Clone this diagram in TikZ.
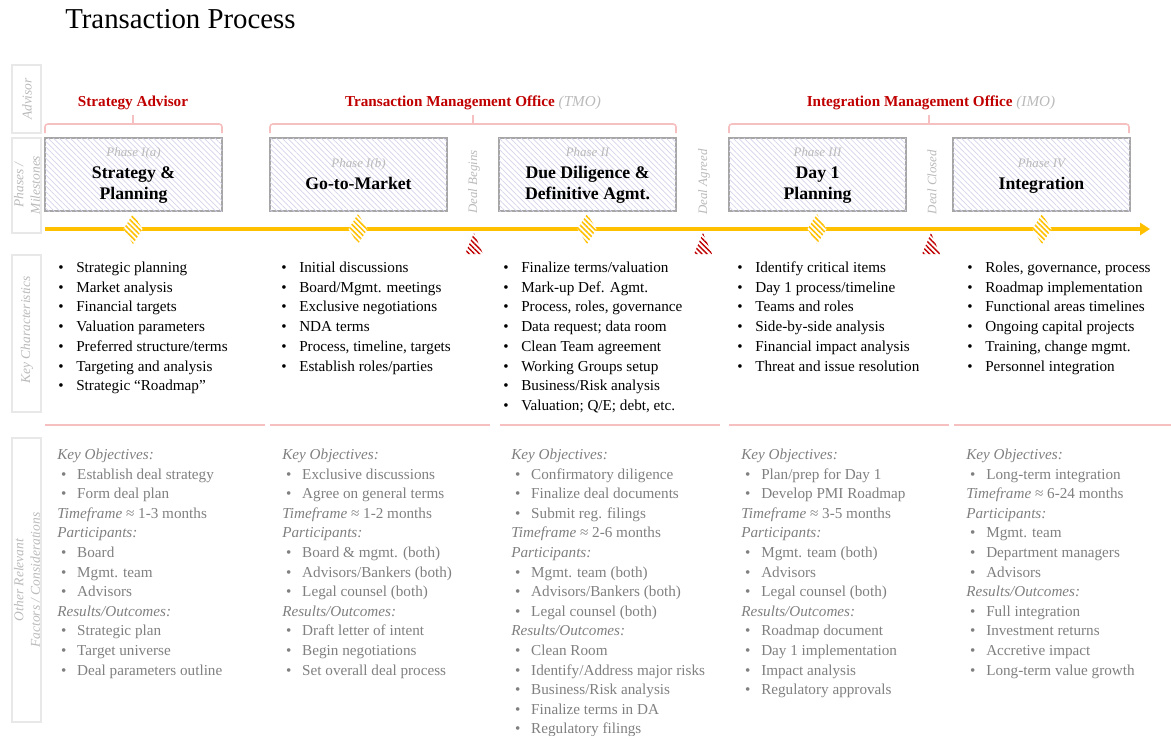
\documentclass[tikz,border=0pt]{standalone}
\usepackage{fontspec}
\setmainfont{Liberation Serif}
\usetikzlibrary{arrows.meta,patterns.meta}
\definecolor{tpred}{RGB}{192,0,0}
\definecolor{tppink}{RGB}{246,192,192}
\definecolor{tpgray}{RGB}{128,128,128}
\definecolor{tplight}{RGB}{186,186,186}
\definecolor{tpframe}{RGB}{232,232,232}
\definecolor{tpbox}{RGB}{166,166,166}
\definecolor{tphatch}{RGB}{212,212,236}
\definecolor{tpyellow}{RGB}{255,192,0}

\newcommand{\kcitem}[1]{\makebox[12.8pt][l]{\textbullet}#1}
\newcommand{\oritem}[1]{\hspace*{2.8pt}\makebox[11.4pt][l]{\textbullet}#1}
\newcommand{\orhead}[1]{\textit{#1}}
\newcommand{\ortime}[1]{\textit{Timeframe} ≈ #1}

\begin{document}
\begin{tikzpicture}[x=0.025cm,y=-0.025cm,
  rowbox/.style={draw=tpframe,line width=1pt},
  rowlab/.style={rotate=90,align=center,text=tplight,font=\fontsize{9.6}{11.6}\selectfont\itshape},
  advhead/.style={anchor=base,text=tpred,font=\fontsize{10.8}{13}\selectfont\bfseries},
  brace/.style={draw=tppink,line width=1.1pt,rounded corners=2pt},
  phasebox/.style={draw=tpbox,line width=1.1pt,fill=white,
    postaction={pattern={Lines[angle=-45,distance=2.8pt,line width=0.5pt]},pattern color=tphatch}},
  phaselab/.style={anchor=base,text=tplight,font=\fontsize{9.2}{11}\selectfont\itshape},
  phasetitle/.style={anchor=base,text=black,font=\fontsize{12.6}{15}\selectfont\bfseries},
  milestone/.style={rotate=90,text=tplight,font=\fontsize{9.2}{11}\selectfont\itshape},
  timeline/.style={draw=tpyellow,line width=2.8pt,-{Triangle[length=7pt,width=8.5pt]}},
  dmark/.style={fill=white,postaction={pattern={Lines[angle=-45,distance=2.6pt,line width=1.1pt]},pattern color=tpyellow}},
  tmark/.style={fill=white,postaction={pattern={Lines[angle=-45,distance=2.6pt,line width=1pt]},pattern color=tpred}},
  sepline/.style={draw=tppink,line width=1.4pt},
  kctext/.style={anchor=base west,inner sep=0pt,text=black,font=\fontsize{10.8}{13}\selectfont},
  ortext/.style={anchor=base west,inner sep=0pt,text=tpgray,font=\fontsize{10.8}{13}\selectfont}]
\useasboundingbox (0,0) rectangle (1171,736);

% Title
\node[anchor=base west,inner sep=0pt,font=\fontsize{20.5}{24}\selectfont] (title) at (65,29) {Transaction Process};

% Row labels
\draw[rowbox] (12,65) rectangle (41,133);
\node[rowlab] (labAdvisor) at (27,99) {Advisor};
\draw[rowbox] (12,138) rectangle (41,233);
\node[rowlab] (labPhases) at (27,185) {Phases /\\Milestones};
\draw[rowbox] (12,255) rectangle (41,412);
\node[rowlab] (labKey) at (27,330) {Key Characteristics};
\draw[rowbox] (12,438) rectangle (41,722);
\node[rowlab] (labOther) at (27,580) {Other Relevant\\Factors / Considerations};

% Advisors and braces
\node[advhead] (advSA) at (133,106) {Strategy Advisor};
\node[advhead] (advTMO) at (473,106) {Transaction Management Office \textcolor{tplight}{\mdseries\itshape (TMO)}};
\node[advhead] (advIMO) at (931,106) {Integration Management Office \textcolor{tplight}{\mdseries\itshape (IMO)}};
\foreach \ba/\bm/\bb in {45/133/222, 270/473/676, 729/929/1129} {
  \draw[brace] (\ba,133) -- (\ba,124) -- (\bb,124) -- (\bb,133);
  \draw[brace] (\bm,124) -- (\bm,115);
}

% Phase boxes
\foreach \pa/\pb in {45/222, 270/447, 499/676, 729/906, 953/1130}
  \filldraw[phasebox] (\pa,138) rectangle (\pb,211);
\node[phaselab] (phA) at (133.5,156.5) {Phase I(a)};
\node[phasetitle] (phAa) at (133.5,178) {Strategy \&};
\node[phasetitle] (phAb) at (133.5,199) {Planning};
\node[phaselab] (phB) at (358.5,167.5) {Phase I(b)};
\node[phasetitle] (phBa) at (358.5,189) {Go-to-Market};
\node[phaselab] (phC) at (587.5,156.5) {Phase II};
\node[phasetitle] (phCa) at (587.5,178) {Due Diligence \&};
\node[phasetitle] (phCb) at (587.5,199) {Definitive Agmt.};
\node[phaselab] (phD) at (817.5,156.5) {Phase III};
\node[phasetitle] (phDa) at (817.5,178) {Day 1};
\node[phasetitle] (phDb) at (817.5,199) {Planning};
\node[phaselab] (phE) at (1041.5,167.5) {Phase IV};
\node[phasetitle] (phEa) at (1041.5,189) {Integration};

% Milestones
\node[milestone] (msBegin) at (474,182) {Deal Begins};
\node[milestone] (msAgree) at (704,182) {Deal Agreed};
\node[milestone] (msClose) at (932,182) {Deal Closed};

% Timeline
\coordinate (tlStart) at (45,229);
\coordinate (tlEnd) at (1150,229);
\draw[timeline] (tlStart) -- (tlEnd);
\foreach \mx in {133,358,587,817,1042}
  \fill[dmark] (\mx,214) -- (\mx+9.5,229) -- (\mx,244) -- (\mx-9.5,229) -- cycle;
\foreach \mx in {474,703,931}
  \fill[tmark] (\mx,233) -- (\mx+9,254) -- (\mx-9,254) -- cycle;

% Key characteristics
\foreach \entry [count=\i from 0] in {Strategic planning, Market analysis, Financial targets,
    Valuation parameters, Preferred structure/terms, Targeting and analysis, Strategic “Roadmap”}
  \node[kctext] (kcA\i) at (58,272.5+19.7*\i) {\kcitem{\entry}};
\foreach \entry [count=\i from 0] in {Initial discussions, Board/Mgmt. meetings, Exclusive negotiations,
    NDA terms, {Process, timeline, targets}, Establish roles/parties}
  \node[kctext] (kcB\i) at (281,272.5+19.7*\i) {\kcitem{\entry}};
\foreach \entry [count=\i from 0] in {Finalize terms/valuation, Mark-up Def. Agmt., {Process, roles, governance},
    Data request; data room, Clean Team agreement, Working Groups setup, Business/Risk analysis,
    {Valuation; Q/E; debt, etc.}}
  \node[kctext] (kcC\i) at (503,272.5+19.7*\i) {\kcitem{\entry}};
\foreach \entry [count=\i from 0] in {Identify critical items, Day 1 process/timeline, Teams and roles,
    Side-by-side analysis, Financial impact analysis, Threat and issue resolution}
  \node[kctext] (kcD\i) at (737,272.5+19.7*\i) {\kcitem{\entry}};
\foreach \entry [count=\i from 0] in {{Roles, governance, process}, Roadmap implementation,
    Functional areas timelines, Ongoing capital projects, {Training, change mgmt.}, Personnel integration}
  \node[kctext] (kcE\i) at (967,272.5+19.7*\i) {\kcitem{\entry}};

% Separators
\foreach \sa/\sb in {45/265, 270/490, 500/720, 729/949, 954/1171}
  \draw[sepline] (\sa,425) -- (\sb,425);

% Other relevant factors
\foreach \entry [count=\i from 0] in {{\orhead{Key Objectives:}}, {\oritem{Establish deal strategy}},
    {\oritem{Form deal plan}}, {\ortime{1-3 months}}, {\orhead{Participants:}}, {\oritem{Board}},
    {\oritem{Mgmt. team}}, {\oritem{Advisors}}, {\orhead{Results/Outcomes:}}, {\oritem{Strategic plan}},
    {\oritem{Target universe}}, {\oritem{Deal parameters outline}}}
  \node[ortext] (orA\i) at (57,459.5+19.6*\i) {\entry};
\foreach \entry [count=\i from 0] in {{\orhead{Key Objectives:}}, {\oritem{Exclusive discussions}},
    {\oritem{Agree on general terms}}, {\ortime{1-2 months}}, {\orhead{Participants:}},
    {\oritem{Board \& mgmt. (both)}}, {\oritem{Advisors/Bankers (both)}}, {\oritem{Legal counsel (both)}},
    {\orhead{Results/Outcomes:}}, {\oritem{Draft letter of intent}}, {\oritem{Begin negotiations}},
    {\oritem{Set overall deal process}}}
  \node[ortext] (orB\i) at (282,459.5+19.6*\i) {\entry};
\foreach \entry [count=\i from 0] in {{\orhead{Key Objectives:}}, {\oritem{Confirmatory diligence}},
    {\oritem{Finalize deal documents}}, {\oritem{Submit reg. filings}}, {\ortime{2-6 months}},
    {\orhead{Participants:}}, {\oritem{Mgmt. team (both)}}, {\oritem{Advisors/Bankers (both)}},
    {\oritem{Legal counsel (both)}}, {\orhead{Results/Outcomes:}}, {\oritem{Clean Room}},
    {\oritem{Identify/Address major risks}}, {\oritem{Business/Risk analysis}},
    {\oritem{Finalize terms in DA}}, {\oritem{Regulatory filings}}}
  \node[ortext] (orC\i) at (511,459.5+19.6*\i) {\entry};
\foreach \entry [count=\i from 0] in {{\orhead{Key Objectives:}}, {\oritem{Plan/prep for Day 1}},
    {\oritem{Develop PMI Roadmap}}, {\ortime{3-5 months}}, {\orhead{Participants:}},
    {\oritem{Mgmt. team (both)}}, {\oritem{Advisors}}, {\oritem{Legal counsel (both)}},
    {\orhead{Results/Outcomes:}}, {\oritem{Roadmap document}}, {\oritem{Day 1 implementation}},
    {\oritem{Impact analysis}}, {\oritem{Regulatory approvals}}}
  \node[ortext] (orD\i) at (741,459.5+19.6*\i) {\entry};
\foreach \entry [count=\i from 0] in {{\orhead{Key Objectives:}}, {\oritem{Long-term integration}},
    {\ortime{6-24 months}}, {\orhead{Participants:}}, {\oritem{Mgmt. team}},
    {\oritem{Department managers}}, {\oritem{Advisors}}, {\orhead{Results/Outcomes:}},
    {\oritem{Full integration}}, {\oritem{Investment returns}}, {\oritem{Accretive impact}},
    {\oritem{Long-term value growth}}}
  \node[ortext] (orE\i) at (966,459.5+19.6*\i) {\entry};
\end{tikzpicture}
\end{document}
